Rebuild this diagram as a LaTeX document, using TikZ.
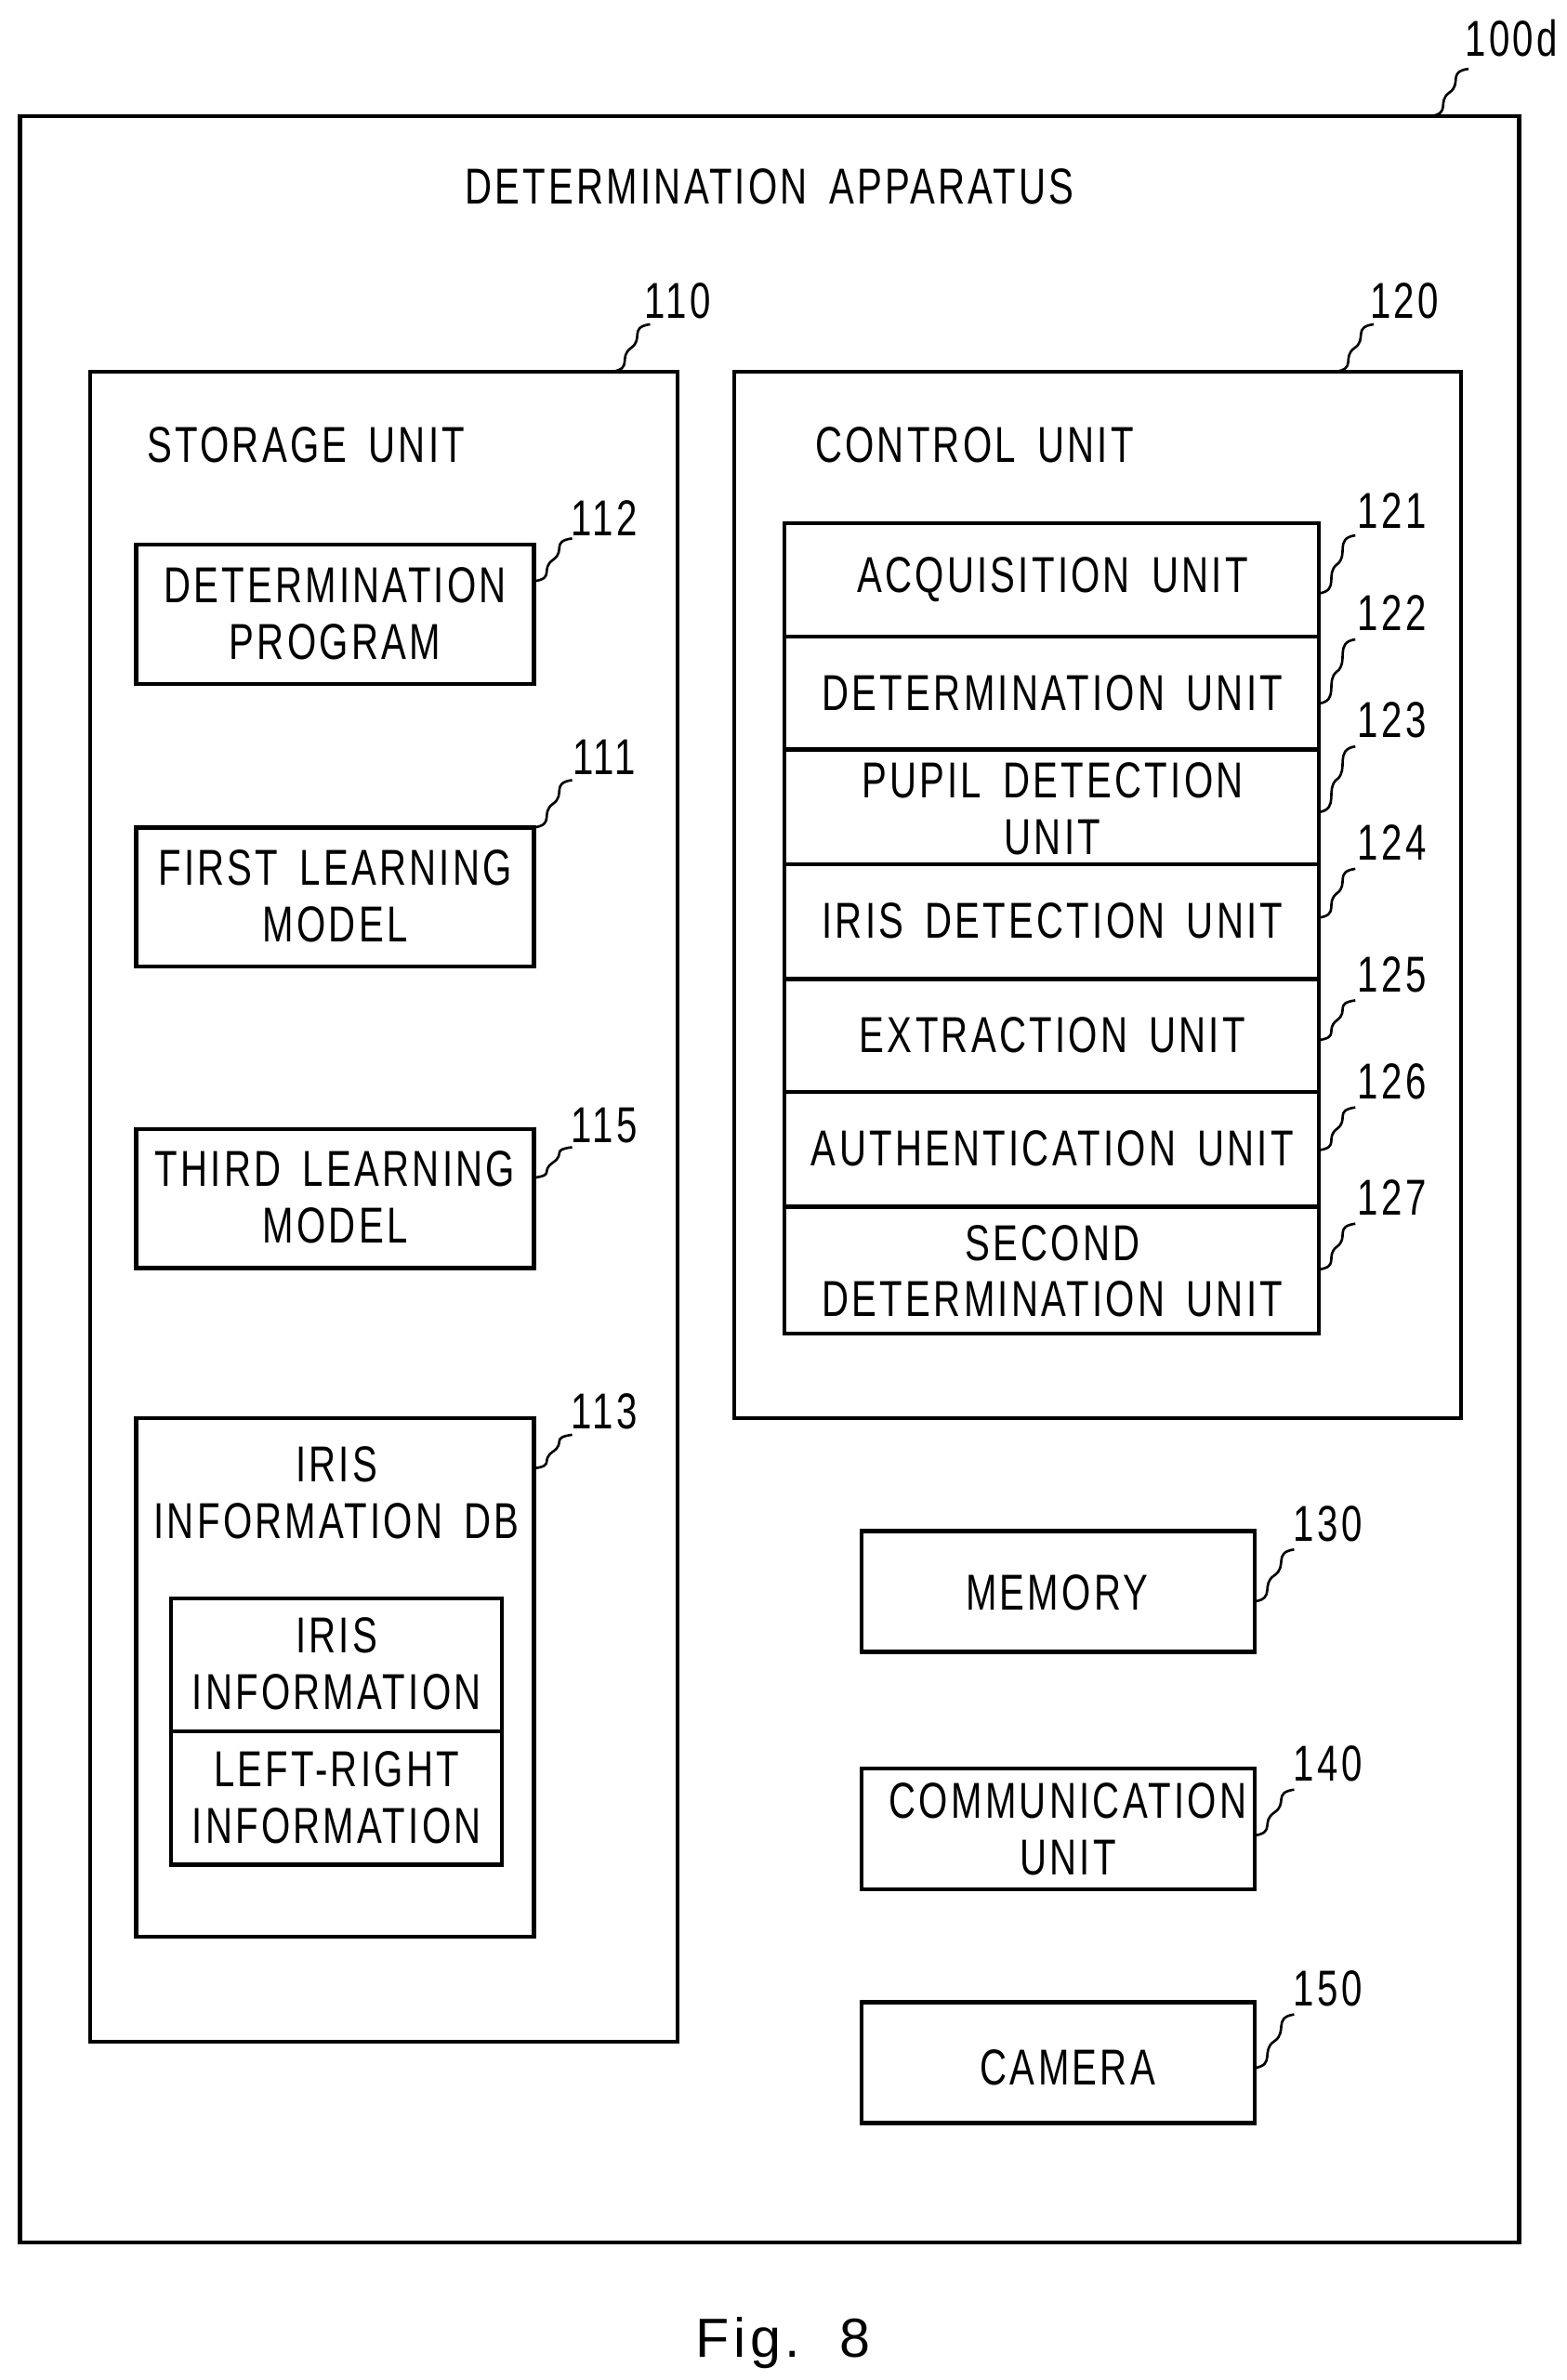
\documentclass[tikz,border=0pt]{standalone}
\usepackage{fontspec}
\setmainfont[FakeStretch=0.74,LetterSpace=6,WordSpace=1.6]{Liberation Sans}
\newfontfamily\figfont[LetterSpace=8]{Liberation Sans}
\begin{document}
\begin{tikzpicture}[x=1pt,y=-1pt,line width=2.6pt,
  every node/.style={font=\fontsize{33}{37}\selectfont, align=center, inner sep=0pt}]
\useasboundingbox (0,0) rectangle (1024,1556);
% outer
\draw (13,76) rectangle (993,1466);
\node (t100) at (988,25) {100d};
\node at (503,122) {DETERMINATION APPARATUS};
% storage
\draw (59,243) rectangle (443,1335);
\node (l110) at (443,197) {110};
\node at (200,291) {STORAGE UNIT};
\draw (480,243) rectangle (955,927);
\node (l120) at (918,197) {120};
\node at (637,291) {CONTROL UNIT};
\draw (89,356) rectangle (349,447); \node at (219,401) {DETERMINATION\\PROGRAM};
\draw (89,541) rectangle (349,632); \node at (219,586) {FIRST LEARNING\\MODEL};
\draw (89,738) rectangle (349,829); \node at (219,783) {THIRD LEARNING\\MODEL};
\draw (89,927) rectangle (349,1266); \node at (220,976) {IRIS\\INFORMATION DB};
\draw (112,1045) rectangle (328,1219); \draw (112,1132)--(328,1132);
\node at (220,1088) {IRIS\\INFORMATION};
\node at (220,1175) {LEFT-RIGHT\\INFORMATION};
\node at (395,339) {112}; \node at (395,495) {111}; \node at (395,736) {115}; \node at (395,923) {113};
% control stack
\draw (513,342) rectangle (862,872);
\foreach \y in {416,490,565,640,714,789} \draw (513,\y)--(862,\y);
\node at (688,379) {ACQUISITION UNIT};
\node at (688,453) {DETERMINATION UNIT};
\node at (688,529) {PUPIL DETECTION\\UNIT};
\node at (688,602) {IRIS DETECTION UNIT};
\node at (688,677) {EXTRACTION UNIT};
\node at (688,751) {AUTHENTICATION UNIT};
\node at (688,831) {SECOND\\DETERMINATION UNIT};
\foreach \n/\y in {121/334,122/401,123/471,124/551,125/637,126/707,127/783} \node at (910,\y) {\n};
% others
\draw (563,1001) rectangle (820,1080); \node at (691,1041) {MEMORY};
\draw (563,1156) rectangle (820,1235); \node at (698,1196) {COMMUNICATION\\UNIT};
\draw (563,1309) rectangle (820,1388); \node at (698,1352) {CAMERA};
\node at (868,996) {130}; \node at (868,1153) {140}; \node at (868,1300) {150};
\node[font=\figfont\fontsize{36}{40}\selectfont] at (512,1532) {Fig.\ \ 8};
% leads
\begin{scope}[line width=1.6pt]
\foreach \sx/\sy/\ex/\ey in {935/76/960/45, 400/243/425/212, 873/243/898/212,
  349/380/374/352, 349/541/374/510, 349/770/374/750, 349/960/374/938,
  862/388/886/350, 862/460/886/418, 862/531/886/488, 862/600/886/568,
  862/680/886/654, 862/752/886/724, 862/830/886/800,
  820/1047/846/1013, 820/1200/846/1170, 820/1352/846/1317}
  \draw (\sx,\sy) .. controls (\sx+14,\sy-2) and (\sx+4,\sy*0.5+\ey*0.5+6) .. (\sx*0.5+\ex*0.5,\sy*0.5+\ey*0.5)
        .. controls (\ex-4,\sy*0.5+\ey*0.5-6) and (\ex-14,\ey+2) .. (\ex,\ey);
\end{scope}
\end{tikzpicture}
\end{document}
